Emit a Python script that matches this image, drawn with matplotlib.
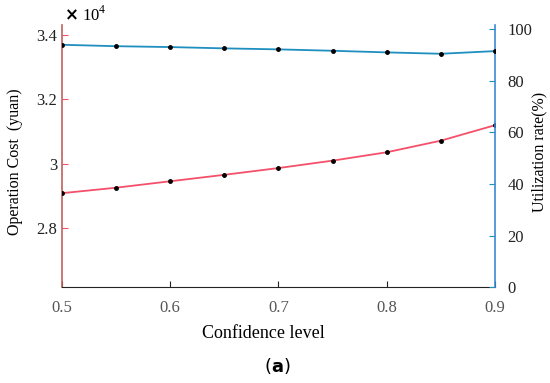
import matplotlib
matplotlib.use("Agg")
import matplotlib.pyplot as plt

plt.rcParams['font.family'] = ['Liberation Serif', 'DejaVu Serif']
plt.rcParams['mathtext.fontset'] = 'custom'
plt.rcParams['mathtext.rm'] = 'Liberation Serif'
plt.rcParams['mathtext.bf'] = 'DejaVu Sans:bold'

# Data
confidence = [0.5, 0.55, 0.6, 0.65, 0.7, 0.75, 0.8, 0.85, 0.9]
cost = [2.909, 2.926, 2.946, 2.966, 2.987, 3.010, 3.036, 3.072, 3.120]  # x 10^4 yuan
utilization = [93.85, 93.3, 92.96, 92.46, 92.07, 91.53, 90.9, 90.37, 91.4]  # %

red = '#f4506a'
blue = '#1f8fc0'

fig = plt.figure(figsize=(5.5, 3.83), dpi=100)
ax = fig.add_axes([0.1127, 0.25, 0.7873, 0.6847])
ax2 = ax.twinx()

ax.plot(confidence, cost, color=red, lw=1.3, marker='o', markersize=2.5,
        markerfacecolor='black', markeredgecolor='black', zorder=3)
ax2.plot(confidence, utilization, color=blue, lw=1.3, marker='o', markersize=2.5,
         markerfacecolor='black', markeredgecolor='black', zorder=3)

ax.set_xlim(0.5, 0.9)
ax.set_ylim(2.617, 3.431)
ax2.set_ylim(0, 101.5)

ax.set_xticks([0.5, 0.6, 0.7, 0.8, 0.9])
ax.set_xticklabels(['0.5', '0.6', '0.7', '0.8', '0.9'])
ax.set_yticks([2.8, 3.0, 3.2, 3.4])
ax.set_yticklabels(['2.8', '3', '3.2', '3.4'])
ax2.set_yticks([0, 20, 40, 60, 80, 100])

for a in (ax, ax2):
    a.spines['top'].set_visible(False)
ax.spines['left'].set_color('#c0605c')
ax.spines['left'].set_linewidth(1.2)
ax2.spines['left'].set_visible(False)
ax2.spines['right'].set_color('#3a8ad8')
ax2.spines['right'].set_linewidth(1.2)
ax.spines['right'].set_visible(False)
ax2.spines['bottom'].set_visible(False)
ax.spines['bottom'].set_color('#222222')

ax.tick_params(axis='x', direction='in', length=4, labelsize=12,
               colors='#222222', labelcolor='#555555', pad=9)
ax.tick_params(axis='y', direction='in', length=4, labelsize=12,
               colors=red, labelcolor='#222222')
ax2.tick_params(axis='y', direction='in', length=4, labelsize=12,
                colors=blue, labelcolor='#222222', pad=9)

ax.set_xlabel('Confidence level', fontsize=13)
ax.xaxis.set_label_coords(0.464, -0.143)
ax.set_ylabel('Operation Cost  (yuan)', fontsize=11.5)
ax.yaxis.set_label_coords(-0.09, 0.478)
ax2.set_ylabel('Utilization rate(%)', fontsize=11.5)
ax2.yaxis.set_label_coords(1.083, 0.516)

fig.text(0.116, 0.962, r'$\mathbf{\times}$ 10$^{4}$', fontsize=12, va='center', ha='left')
fig.text(0.505, 0.044, r'($\mathbf{a}$)', fontsize=13, ha='center', va='center',
         family='DejaVu Sans')

fig.savefig('out.png', dpi=100)
